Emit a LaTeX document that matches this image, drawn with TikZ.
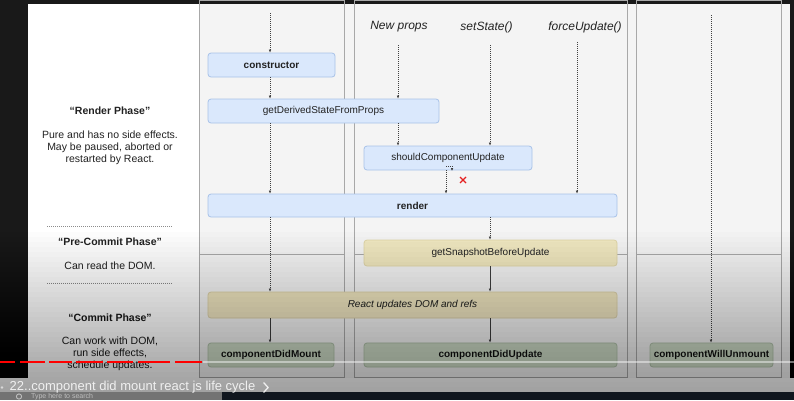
\documentclass[tikz,border=0pt]{standalone}
\usepackage{fontspec}
\setmainfont{Liberation Sans}
\usetikzlibrary{arrows.meta}

\definecolor{bluefill}{RGB}{218,232,252}
\definecolor{blueline}{RGB}{168,194,232}
\definecolor{yelfill}{RGB}{240,232,194}
\definecolor{yelline}{RGB}{224,214,168}
\definecolor{grnfill}{RGB}{206,221,199}
\definecolor{grnline}{RGB}{174,194,167}
\definecolor{colbg}{RGB}{244,244,244}
\definecolor{colline}{RGB}{168,168,168}
\definecolor{xred}{RGB}{228,32,32}
\definecolor{ytred}{RGB}{255,0,0}
\definecolor{inkgray}{RGB}{34,34,34}
\definecolor{taskbar}{RGB}{16,22,30}

\begin{document}
\begin{tikzpicture}[x=1pt, y=-1pt,
  box/.style = {draw, rounded corners=3pt, inner sep=0pt, line width=0.8pt, text=inkgray, font=\fontsize{10}{12}\selectfont},
  bluebox/.style = {box, fill=bluefill, draw=blueline},
  yelbox/.style = {box, fill=yelfill, draw=yelline},
  grnbox/.style = {box, fill=grnfill, draw=grnline},
  boldbox/.style = {font=\fontsize{10}{12}\bfseries\selectfont},
  flow/.style = {-{Latex[length=3pt,width=2.6pt]}, line width=0.5pt, black!75},
  maybe/.style = {flow, dash pattern=on 1pt off 1pt},
  phase/.style = {text=inkgray, font=\fontsize{10.5}{12}\bfseries\selectfont},
  note/.style = {align=center, text=inkgray, font=\fontsize{10.5}{12}\selectfont},
  trigger/.style = {text=inkgray, font=\fontsize{12}{14}\itshape\selectfont},
  column/.style = {draw=colline, line width=0.8pt}]
\useasboundingbox (0,0) rectangle (794,400);
\clip (0,0) rectangle (794,400);

% screen and slide
\fill[black!90] (0,0) rectangle (794,400);
\fill[white] (28,4) rectangle (790,392);
\fill[white] (0,378) rectangle (794,392);
\fill[colbg] (199,4) rectangle (790,378);

% columns: mounting, updating, unmounting
\draw[column] (199,0) rectangle (344,377) (199,254) -- (344,254);
\draw[column] (354,0) rectangle (627,377) (354,254) -- (627,254);
\draw[column] (636,0) rectangle (781,377) (636,254) -- (781,254);

% phases
\node[phase] (rp) at (110,111) {“Render Phase”};
\node[note] (rpn) at (110,148) {Pure and has no side effects.\\May be paused, aborted or\\restarted by React.};
\draw[black!45, dash pattern=on 1pt off 1pt] (47,226) -- (172,226);
\node[phase] (pcp) at (110,242) {“Pre-Commit Phase”};
\node[note] (pcpn) at (110,266) {Can read the DOM.};
\draw[black!45, dash pattern=on 1pt off 1pt] (47,283) -- (172,283);
\node[phase] (cp) at (110,318) {“Commit Phase”};
\node[note] (cpn) at (110,354) {Can work with DOM,\\run side effects,\\schedule updates.};

% triggers
\node[trigger] (np) at (399,27) {New props};
\node[trigger] (ss) at (486.5,27) {setState()};
\node[trigger] (fu) at (585,27) {forceUpdate()};
\coordinate (mtop) at (270,13);
\coordinate (nptop) at (398,45);
\coordinate (sstop) at (490,45);
\coordinate (futop) at (577,42);
\coordinate (utop) at (711,15);
\coordinate (nope) at (446,170);

% lifecycle methods
\node[bluebox, boldbox, minimum width=127, minimum height=24] (ctor) at (271.5,65) {constructor};
\node[bluebox, minimum width=231, minimum height=24] (gdsfp) at (323.5,111) {getDerivedStateFromProps};
\node[bluebox, minimum width=168, minimum height=24] (scu) at (448,158) {shouldComponentUpdate};
\node[bluebox, boldbox, minimum width=409, minimum height=23] (render) at (412.5,205.5) {render};
\node[yelbox, minimum width=253, minimum height=26] (gsbu) at (490.5,253) {getSnapshotBeforeUpdate};
\node[yelbox, minimum width=409, minimum height=26, font=\fontsize{10}{12}\itshape\selectfont] (rudom) at (412.5,305) {React updates DOM and refs};
\node[grnbox, boldbox, minimum width=126, minimum height=24] (cdm) at (271,355) {componentDidMount};
\node[grnbox, boldbox, minimum width=253, minimum height=24] (cdu) at (490.5,355) {componentDidUpdate};
\node[grnbox, boldbox, minimum width=123, minimum height=24] (cwu) at (711.5,355) {componentWillUnmount};

% mounting
\draw[maybe] (mtop) -- (mtop |- ctor.north);
\draw[maybe] (mtop |- ctor.south) -- (mtop |- gdsfp.north);
\draw[maybe] (mtop |- gdsfp.south) -- (mtop |- render.north);
\draw[maybe] (mtop |- render.south) -- (mtop |- rudom.north);
\draw[flow] (mtop |- rudom.south) -- (mtop |- cdm.north);

% updating
\draw[maybe] (nptop) -- (nptop |- gdsfp.north);
\draw[maybe] (nptop |- gdsfp.south) -- (nptop |- scu.north);
\draw[maybe] (sstop) -- (sstop |- scu.north);
\draw[maybe] (futop) -- (futop |- render.north);
\draw[maybe] (nope) -- (nope |- render.north);
\draw[maybe] ([yshift=4pt]nope) -| ++(6,5);
\draw[xred, line width=1.2pt] (460,177) -- (466,183) (460,183) -- (466,177);
\draw[maybe] (sstop |- render.south) -- (sstop |- gsbu.north);
\draw[flow] (sstop |- gsbu.south) -- (sstop |- rudom.north);
\draw[flow] (sstop |- rudom.south) -- (sstop |- cdu.north);

% unmounting
\draw[maybe] (utop) -- (utop |- cwu.north);

% video overlay
\foreach \i in {1,...,32}
  \fill[black, opacity=0.01] (0,{392-5*\i}) rectangle (794,392);
\fill[black!55] (0,392) rectangle (222,400);
\fill[taskbar] (222,392) rectangle (794,400);
\draw[white, opacity=0.45, line width=2.5pt] (203,362) -- (794,362);
\foreach \a/\b in {0/15,20/45,49/72,76/103,107/133,138/170,175/202}
  \draw[ytred, line width=2.5pt] (\a,362) -- (\b,362);
\fill[white!85!black] (2,387.5) circle (1.3pt);
\node[anchor=west, inner sep=0pt, text=white!94!black, font=\fontsize{13}{15}\selectfont] (title) at (9.5,387.5) {22..component did mount react js life cycle};
\draw[white!94!black, line width=1.3pt] (title.east) ++(8,-5) -- ++(4.5,5) -- ++(-4.5,5);
\draw[black!25, line width=0.9pt] (19,396.5) circle (2.6pt);
\node[anchor=west, inner sep=0pt, text=black!25, font=\fontsize{7}{8}\selectfont] (search) at (31,396.5) {Type here to search};
\end{tikzpicture}
\end{document}
